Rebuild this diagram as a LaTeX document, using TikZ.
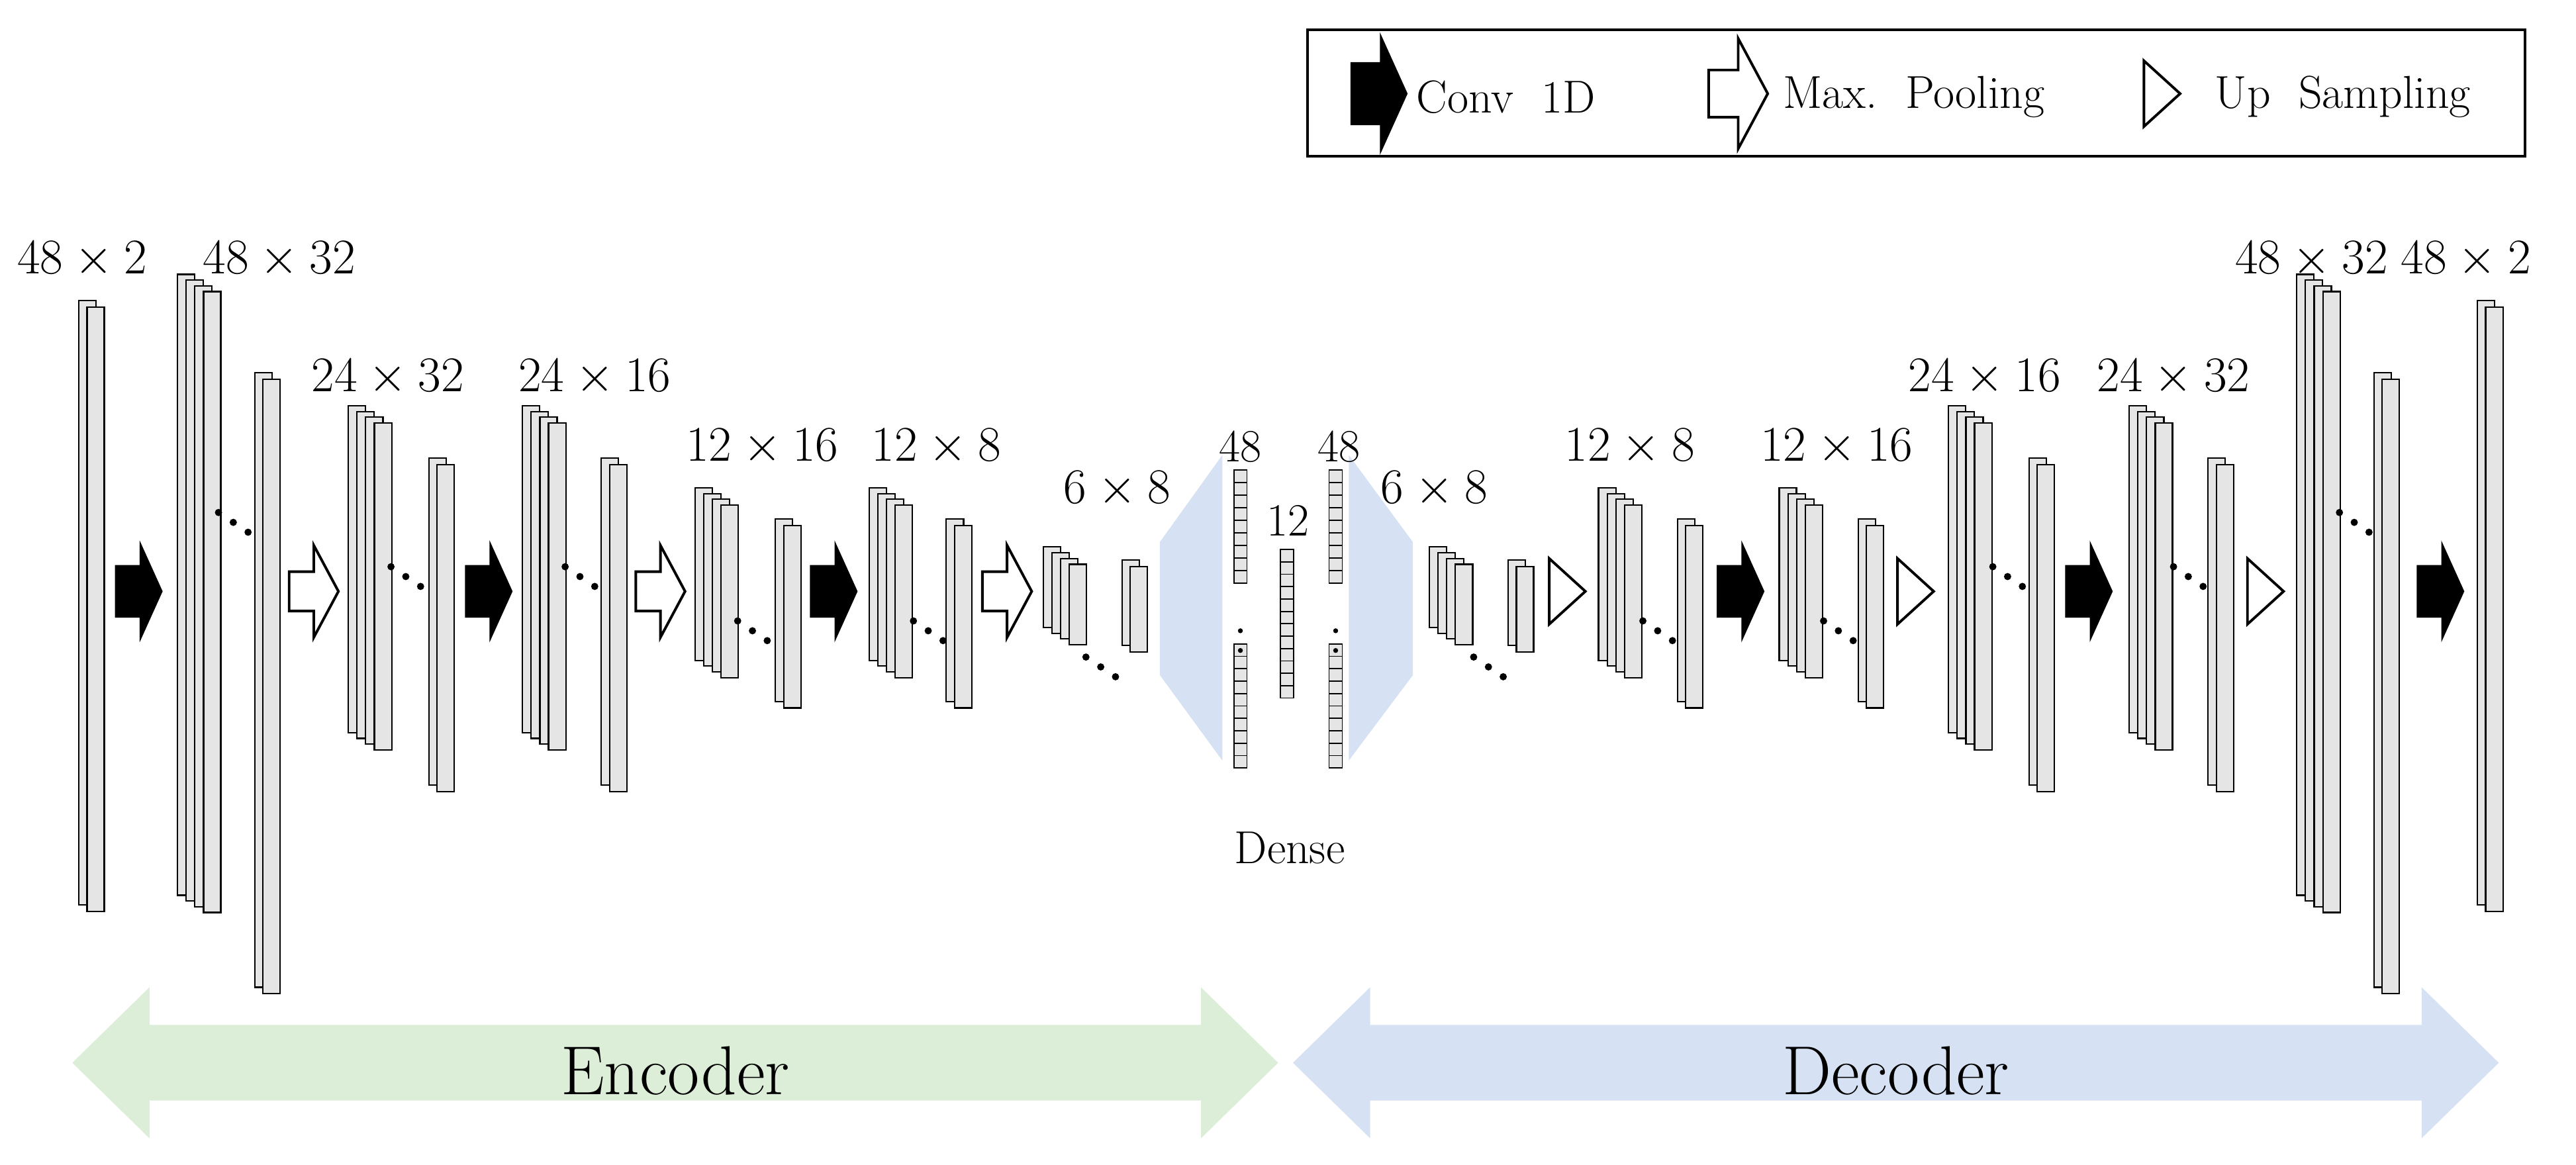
\documentclass[tikz,border=0pt]{standalone}
\begin{document}
\begin{tikzpicture}[x=0.02cm,y=-0.02cm,
  layer/.style={draw=black,fill=black!10,line width=0.5pt},
  cell/.style={draw=black,fill=black!10,line width=0.4pt},
  lbl/.style={font=\fontsize{16}{19}\selectfont,inner sep=0pt},
  big/.style={font=\fontsize{24}{28}\selectfont,inner sep=0pt}]
\useasboundingbox (0,0) rectangle (1568,709.2);
\newcommand\lstack[3]{\foreach \i in {0,...,3}{\filldraw[layer] ({#1+5.3*\i},{#2+3.5*\i}) rectangle ++(10.5,#3);}}
\newcommand\lpair[3]{\foreach \i in {0,1}{\filldraw[layer] ({#1+5*\i},{#2+4*\i}) rectangle ++(10.5,#3);}}
\newcommand\tdots[2]{\foreach \i in {0,1,2}{\fill ({#1+9*\i},{#2+6*\i}) circle (2.2);}}
\newcommand\convarr[3]{\fill[shift={(#1,#2)},scale=#3] (0,-16) -- (15,-16) -- (15,-31) -- (29,0) -- (15,31) -- (15,16) -- (0,16) -- cycle;}
\newcommand\poolarr[3]{\draw[fill=white,line width=0.9pt,shift={(#1,#2)},scale=#3] (0,-12) -- (15,-12) -- (15,-28) -- (30,0) -- (15,28) -- (15,12) -- (0,12) -- cycle;}
\newcommand\uptri[3]{\draw[fill=white,line width=0.9pt,shift={(#1,#2)},scale=#3] (0,-20) -- (22,0) -- (0,20) -- cycle;}
\newcommand\cellcol[4]{\foreach \i in {1,...,#4}{\filldraw[cell] (#1,{#2+(\i-1)*#3}) rectangle ++(8,#3);}}
% legend
\draw[line width=0.9pt] (796,18) rectangle (1537,95);
\convarr{822}{57}{1.2}
\node[lbl,anchor=west] (lg1) at (862,59) {Conv\ \ 1D};
\poolarr{1040}{57}{1.2}
\node[lbl,anchor=west] (lg2) at (1085,59) {Max.\ \ Pooling};
\uptri{1305}{57}{1.0}
\node[lbl,anchor=west] (lg3) at (1348,59) {Up\ \ Sampling};
% encoder layers
\lpair{48}{183}{368}
\lstack{108}{167}{378} \lpair{155}{227}{374}
\lstack{212}{247}{199} \lpair{261}{279}{199}
\lstack{318}{247}{199} \lpair{366}{279}{199}
\lstack{423}{297}{105} \lpair{472}{316}{111}
\lstack{529}{297}{105} \lpair{576}{316}{111}
\lstack{635}{333}{49} \lpair{683}{341}{52}
% decoder layers
\lstack{870}{333}{49} \lpair{918}{341}{52}
\lstack{973}{297}{105} \lpair{1021}{316}{111}
\lstack{1083}{297}{105} \lpair{1131}{316}{111}
\lstack{1186}{247}{199} \lpair{1235}{279}{199}
\lstack{1296}{247}{199} \lpair{1344}{279}{199}
\lstack{1398}{167}{378} \lpair{1445}{227}{374}
\lpair{1508}{183}{368}
% dots
\tdots{133}{312}\tdots{238}{345}\tdots{344}{345}\tdots{449}{378}\tdots{556}{378}\tdots{661}{400}
\tdots{897}{400}\tdots{1000}{378}\tdots{1110}{378}\tdots{1213}{345}\tdots{1323}{345}\tdots{1424}{312}
% arrows
\convarr{70}{360}{1}\convarr{283}{360}{1}\convarr{493}{360}{1}
\convarr{1045}{360}{1}\convarr{1257}{360}{1}\convarr{1471}{360}{1}
\poolarr{176}{360}{1}\poolarr{387}{360}{1}\poolarr{598}{360}{1}
\uptri{943}{360}{1}\uptri{1155}{360}{1}\uptri{1368}{360}{1}
% labels
\node[lbl] (l1) at (50,158) {$48\times2$};
\node[lbl] (l2) at (170,158) {$48\times32$};
\node[lbl] (l3) at (236,230) {$24\times32$};
\node[lbl] (l4) at (362,230) {$24\times16$};
\node[lbl] (l5) at (464,272) {$12\times16$};
\node[lbl] (l6) at (570,272) {$12\times8$};
\node[lbl] (l7) at (680,298) {$6\times8$};
\node[lbl] (r7) at (873,298) {$6\times8$};
\node[lbl] (r6) at (992,272) {$12\times8$};
\node[lbl] (r5) at (1118,272) {$12\times16$};
\node[lbl] (r4) at (1208,230) {$24\times16$};
\node[lbl] (r3) at (1323,230) {$24\times32$};
\node[lbl] (r2) at (1407,158) {$48\times32$};
\node[lbl] (r1) at (1501,158) {$48\times2$};
% dense
\fill[fill={rgb,255:red,214;green,226;blue,243}] (744,277) -- (706,330) -- (706,411) -- (744,463) -- cycle;
\fill[fill={rgb,255:red,214;green,226;blue,243}] (821,277) -- (860,330) -- (860,411) -- (821,463) -- cycle;
\cellcol{751}{286}{7.67}{9}
\cellcol{751}{392}{7.55}{10}
\cellcol{779.5}{334.5}{7.54}{12}
\cellcol{809}{286}{7.67}{9}
\cellcol{809}{392}{7.55}{10}
\foreach \xx in {755,813}{\fill (\xx,384) circle (1.5); \fill (\xx,396) circle (1.5);}
\node[lbl] (d1) at (755,272) {48};
\node[lbl] (d2) at (784,317) {12};
\node[lbl] (d3) at (815,272) {48};
\node[lbl] (dense) at (785,516) {Dense};
% encoder / decoder
\fill[fill={rgb,255:red,221;green,238;blue,216}] (44,647) -- (91,601) -- (91,624) -- (731,624) -- (731,601) -- (778,647) -- (731,693) -- (731,670) -- (91,670) -- (91,693) -- cycle;
\fill[fill={rgb,255:red,214;green,226;blue,243}] (787,647) -- (834,601) -- (834,624) -- (1474,624) -- (1474,601) -- (1521,647) -- (1474,693) -- (1474,670) -- (834,670) -- (834,693) -- cycle;
\node[big] (enc) at (411,652) {Encoder};
\node[big] (dec) at (1154,652) {Decoder};
\end{tikzpicture}
\end{document}
